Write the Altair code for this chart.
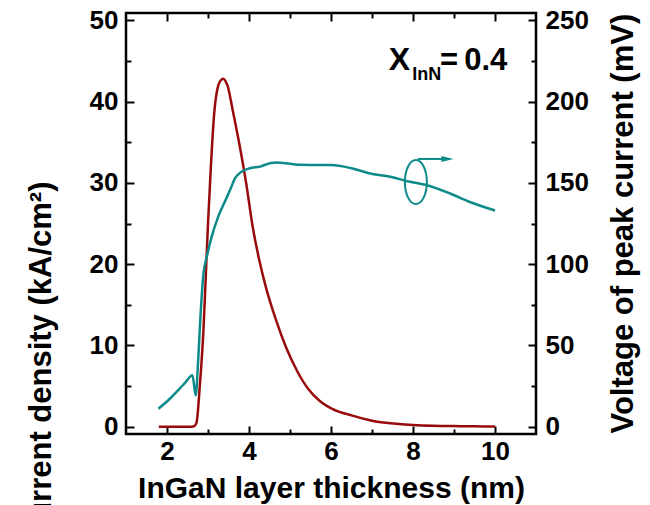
import altair as alt
import pandas as pd

# ---------------- data ----------------
thickness_j = [1.8, 2.0, 2.3, 2.6, 2.66, 2.72, 2.80, 2.89, 2.95, 3.00,
               3.07, 3.15, 3.25, 3.31, 3.37, 3.43, 3.48, 3.60, 3.76, 3.93,
               4.09, 4.25, 4.41, 4.66, 4.90, 5.19, 5.45, 5.72, 6.03, 6.52,
               7.0, 7.66, 8.0, 8.5, 9.0, 9.5, 10.0]
current_density = [0, 0, 0, 0, 0.05, 0.5, 5.0, 12.0, 19.0, 25.0,
                   32.0, 38.5, 42.0, 42.6, 42.8, 42.5, 41.9, 39.0, 34.9, 30.0,
                   24.6, 20.5, 17.2, 13.1, 9.8, 6.7, 4.6, 3.2, 2.2, 1.36,
                   0.74, 0.33, 0.22, 0.12, 0.07, 0.04, 0.03]

thickness_v = [1.79, 2.07, 2.32, 2.45, 2.62, 2.70, 2.76, 2.82, 2.89, 2.97,
               3.09, 3.25, 3.41, 3.54, 3.66, 3.82, 4.02, 4.27, 4.51, 4.67,
               5.00, 5.24, 5.5, 6.0, 6.5, 6.93, 7.5, 7.83, 8.32, 8.89,
               9.37, 10.0]
voltage = [11.0, 17.2, 23.7, 27.3, 31.6, 19.2, 40.8, 69.6, 94.3, 104.5,
           116.9, 129.2, 138.4, 145.7, 152.9, 156.9, 159.0, 160.0, 162.1, 162.5,
           161.7, 161.1, 161.0, 161.0, 159.0, 155.9, 153.5, 151.2, 148.7, 143.6,
           138.4, 133.0]

x_major = [2, 4, 6, 8, 10]
x_minor = [3, 5, 7, 9]
j_major = [0, 10, 20, 30, 40, 50]
j_minor = [5, 15, 25, 35, 45]
v_major = [0, 50, 100, 150, 200, 250]
v_minor = [25, 75, 125, 175, 225]

x_title = "InGaN layer thickness (nm)"
j_title = "Current density (kA/cm²)"
v_title = "Voltage of peak current (mV)"

# annotation: X_InN = 0.4, ellipse around the teal curve, arrow to the right axis
label_parts = ["X", "InN", "=", "0.4"]
label_x = [7.41, 7.98, 8.66, 9.25]
label_y = [43.9, 42.7, 43.9, 43.9]
label_size = [32, 18, 31, 31]
ellipse_x = [8.07]
ellipse_j = [30.1]
arrow_x = [8.115]
arrow_x2 = [8.76]
arrow_v = [164.7]
arrowhead_x = [8.84]

# ---------------- styling ----------------
FONT = "Liberation Sans"
RED = "#990b0b"
TEAL = "#0d8a8a"
X_DOM = [1, 11]
J_DOM = [-0.9, 50.9]
V_DOM = [-4.5, 254.5]


def scale(dom):
    return alt.Scale(domain=dom, nice=False, zero=False)


def ax(orient, values, size, labels=False, pad=0, **extra):
    p = dict(orient=orient, values=values, tickSize={"expr": str(-size)},
             tickWidth=2, tickColor="black", domain=False, grid=False,
             labels=labels, labelFlush=False, labelOverlap=False)
    if labels:
        p.update(labelFont=FONT, labelFontSize=26, labelFontWeight="bold",
                 labelColor="black", labelPadding=pad)
    p.update(extra)
    return alt.Axis(**p)


title_style = dict(titleFont=FONT, titleFontWeight="bold", titleColor="black",
                   titleBaseline="alphabetic")

df_j = pd.DataFrame({"x": thickness_j, "j": current_density})
df_v = pd.DataFrame({"x": thickness_v, "v": voltage})
df_el = pd.DataFrame({"x": ellipse_x, "j": ellipse_j})
df_ar = pd.DataFrame({"x": arrow_x, "x2": arrow_x2, "v": arrow_v})
df_ah = pd.DataFrame({"x": arrowhead_x, "v": arrow_v})
df_lab = pd.DataFrame({"x": label_x, "j": label_y, "t": label_parts, "fs": label_size})

red = alt.Chart(df_j).mark_line(color=RED, strokeWidth=2.5, interpolate="monotone").encode(
    x=alt.X("x:Q", scale=scale(X_DOM), title=x_title,
            axis=ax("bottom", x_major, 8, labels=True, pad=12,
                    titleFontSize=30, titleX=205, titleY=63, titleAlign="center",
                    **title_style)),
    y=alt.Y("j:Q", scale=scale(J_DOM), title=j_title,
            axis=ax("left", j_major, 8, labels=True, pad=16,
                    titleFontSize=31, titleAngle=270, titleAlign="right",
                    titleX=-76, titleY=168, **title_style)),
)

teal = alt.Chart(df_v).mark_line(color=TEAL, strokeWidth=2.5, interpolate="monotone").encode(
    x=alt.X("x:Q", scale=scale(X_DOM), title=None, axis=ax("top", x_major, 8)),
    y=alt.Y("v:Q", scale=scale(V_DOM), title=v_title,
            axis=ax("right", v_major, 8, labels=True, pad=17,
                    titleFontSize=31, titleAngle=270, titleAlign="left",
                    titleX=96, titleY=420, **title_style)),
)

ELLIPSE = "M0,-1A0.5,1,0,1,1,0,1A0.5,1,0,1,1,0,-1Z"
ellipse = alt.Chart(df_el).mark_point(shape=ELLIPSE, filled=False, size=1936,
                                      strokeWidth=2, color=TEAL, opacity=1).encode(
    x=alt.X("x:Q", scale=scale(X_DOM), title=None, axis=ax("bottom", x_minor, 5)),
    y=alt.Y("j:Q", scale=scale(J_DOM), title=None, axis=ax("left", j_minor, 5)),
)

arrow = alt.Chart(df_ar).mark_rule(color=TEAL, strokeWidth=2).encode(
    x=alt.X("x:Q", scale=scale(X_DOM), title=None, axis=ax("top", x_minor, 5)),
    x2="x2:Q",
    y=alt.Y("v:Q", scale=scale(V_DOM), title=None, axis=ax("right", v_minor, 5)),
)

HEAD = "M-1,-0.5L1,0L-1,0.5Z"
head = alt.Chart(df_ah).mark_point(shape=HEAD, filled=True, size=144,
                                   color=TEAL, opacity=1).encode(
    x=alt.X("x:Q", scale=scale(X_DOM), axis=None),
    y=alt.Y("v:Q", scale=scale(V_DOM), axis=None),
)

labels = alt.Chart(df_lab).mark_text(font=FONT, fontWeight="bold", align="left",
                                      baseline="alphabetic", color="black").encode(
    x=alt.X("x:Q", scale=scale(X_DOM), axis=None),
    y=alt.Y("j:Q", scale=scale(J_DOM), axis=None),
    text="t:N",
    size=alt.Size("fs:Q", scale=None, legend=None),
)

chart = alt.layer(red, teal, ellipse, arrow, head, labels).resolve_scale(
    x="independent", y="independent"
).properties(
    width=410, height=421,
    autosize=alt.AutoSizeParams(type="none"),
    padding={"left": 126, "top": 13, "right": 114, "bottom": 71},
    background="white",
).configure_view(stroke="black", strokeWidth=2.5)

chart.save("out.html", embed_options={"renderer": "svg", "actions": False})
